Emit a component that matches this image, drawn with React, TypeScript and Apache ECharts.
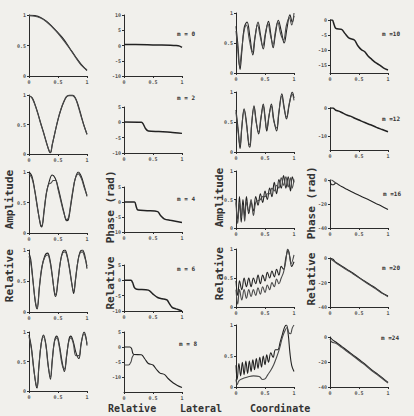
import React, { useEffect, useRef } from 'react';
import * as echarts from 'echarts';

// ---------- data ----------
const xTicks = [0, 0.5, 1];
const ampTicks = [0, 0.5, 1];
const modeLabels = ['m = 0', 'm = 2', 'm = 4', 'm = 6', 'm = 8', 'm =10', 'm =12', 'm =16', 'm =20', 'm =24'];

const amp0a = [[0,1],[0.1,0.99],[0.2,0.96],[0.3,0.9],[0.4,0.81],[0.5,0.71],[0.6,0.6],[0.7,0.46],[0.8,0.32],[0.9,0.19],[1,0.09]];
const amp0b = [[0,0.99],[0.1,0.98],[0.2,0.95],[0.3,0.89],[0.4,0.8],[0.5,0.7],[0.6,0.58],[0.7,0.45],[0.8,0.31],[0.9,0.18],[1,0.1]];
const phase0 = [[0,0.3],[0.2,0.3],[0.5,0.2],[0.8,0.1],[0.9,0],[0.96,-0.2],[1,-0.6]];

const amp2a = [[0,0.98],[0.05,0.96],[0.1,0.85],[0.15,0.7],[0.2,0.53],[0.25,0.37],[0.3,0.2],[0.35,0.04],[0.37,0.02],[0.4,0.15],[0.45,0.37],[0.5,0.58],[0.55,0.75],[0.6,0.88],[0.65,0.97],[0.7,1],[0.75,1],[0.8,0.95],[0.85,0.82],[0.9,0.65],[0.95,0.48],[1,0.33]];
const amp2b = [[0,0.99],[0.05,0.95],[0.1,0.84],[0.15,0.69],[0.2,0.52],[0.25,0.36],[0.3,0.19],[0.35,0.05],[0.37,0.03],[0.4,0.16],[0.45,0.38],[0.5,0.59],[0.55,0.76],[0.6,0.89],[0.65,0.98],[0.7,0.99],[0.75,0.99],[0.8,0.94],[0.85,0.8],[0.9,0.63],[0.95,0.47],[1,0.34]];
const phase2 = [[0,0.1],[0.3,0],[0.33,-0.5],[0.37,-2],[0.42,-2.8],[0.6,-3],[0.8,-3.2],[1,-3.6]];

const amp4a = [[0,1],[0.05,0.93],[0.1,0.7],[0.15,0.4],[0.2,0.12],[0.22,0.1],[0.26,0.35],[0.3,0.65],[0.35,0.85],[0.4,0.95],[0.45,0.9],[0.5,0.75],[0.55,0.55],[0.6,0.35],[0.65,0.2],[0.68,0.22],[0.72,0.45],[0.76,0.7],[0.8,0.9],[0.85,1],[0.9,0.93],[0.95,0.78],[1,0.6]];
const amp4b = [[0,0.97],[0.05,0.9],[0.1,0.68],[0.15,0.38],[0.2,0.14],[0.22,0.12],[0.26,0.38],[0.3,0.66],[0.34,0.8],[0.38,0.82],[0.42,0.86],[0.46,0.86],[0.5,0.72],[0.55,0.52],[0.6,0.33],[0.65,0.22],[0.68,0.25],[0.72,0.48],[0.76,0.72],[0.8,0.9],[0.85,0.97],[0.9,0.9],[0.95,0.75],[1,0.62]];
const phase4 = [[0,0],[0.18,0],[0.21,-1.5],[0.24,-2.7],[0.4,-2.9],[0.58,-3.2],[0.63,-4.5],[0.7,-5.7],[0.8,-6.1],[1,-6.8]];

const amp6a = [[0,0.95],[0.03,0.85],[0.07,0.5],[0.11,0.15],[0.14,0.05],[0.18,0.4],[0.22,0.7],[0.27,0.9],[0.32,0.95],[0.36,0.85],[0.4,0.6],[0.44,0.3],[0.46,0.25],[0.5,0.5],[0.54,0.8],[0.58,0.97],[0.62,1],[0.66,0.9],[0.7,0.7],[0.74,0.45],[0.77,0.3],[0.8,0.5],[0.84,0.8],[0.88,0.97],[0.92,1],[0.96,0.92],[1,0.7]];
const amp6b = [[0,0.9],[0.03,0.8],[0.07,0.48],[0.11,0.17],[0.14,0.08],[0.18,0.42],[0.22,0.72],[0.27,0.88],[0.32,0.92],[0.36,0.82],[0.4,0.58],[0.44,0.32],[0.46,0.28],[0.5,0.52],[0.54,0.8],[0.58,0.95],[0.62,0.97],[0.66,0.88],[0.7,0.68],[0.74,0.44],[0.77,0.33],[0.8,0.52],[0.84,0.8],[0.88,0.95],[0.92,0.97],[0.96,0.88],[1,0.74]];
const phase6 = [[0,0],[0.12,0],[0.15,-0.8],[0.18,-2.4],[0.22,-2.9],[0.42,-3.2],[0.5,-4.5],[0.58,-5.6],[0.66,-6],[0.74,-6.4],[0.78,-7.5],[0.83,-8.8],[0.9,-9.3],[1,-10]];

const amp8a = [[0,0.95],[0.04,0.75],[0.08,0.4],[0.12,0.1],[0.14,0.05],[0.17,0.4],[0.21,0.8],[0.25,0.95],[0.29,0.8],[0.33,0.45],[0.37,0.2],[0.4,0.5],[0.44,0.85],[0.48,0.93],[0.52,0.8],[0.57,0.5],[0.61,0.33],[0.65,0.6],[0.69,0.88],[0.72,0.93],[0.76,0.85],[0.81,0.65],[0.86,0.55],[0.9,0.8],[0.95,1],[0.98,0.92],[1,0.77]];
const amp8b = [[0,0.92],[0.04,0.72],[0.08,0.38],[0.12,0.12],[0.14,0.08],[0.17,0.42],[0.21,0.8],[0.25,0.92],[0.29,0.78],[0.33,0.42],[0.37,0.24],[0.4,0.52],[0.44,0.84],[0.48,0.9],[0.52,0.76],[0.57,0.45],[0.61,0.37],[0.65,0.62],[0.69,0.86],[0.72,0.9],[0.76,0.82],[0.81,0.6],[0.86,0.6],[0.9,0.82],[0.95,0.97],[0.98,0.9],[1,0.8]];
const phase8a = [[0,0],[0.1,0],[0.13,-0.5],[0.15,-2],[0.17,-2.5],[0.3,-2.6],[0.36,-4],[0.42,-5.5],[0.5,-6],[0.56,-7.5],[0.62,-8.7],[0.7,-9.2],[0.76,-10.5],[0.85,-12],[0.92,-12.8],[1,-13.5]];
const phase8b = [[0,-6],[0.08,-6],[0.12,-5],[0.14,-3.5],[0.17,-2.5]];

const amp10a = [[0,0.78],[0.03,0.5],[0.07,0.06],[0.1,0.35],[0.14,0.75],[0.19,0.85],[0.24,0.6],[0.29,0.3],[0.33,0.6],[0.38,0.85],[0.42,0.65],[0.47,0.4],[0.51,0.65],[0.56,0.86],[0.6,0.65],[0.64,0.42],[0.68,0.65],[0.73,0.88],[0.78,0.7],[0.83,0.5],[0.88,0.75],[0.93,0.97],[0.97,0.85],[1,0.95]];
const amp10b = [[0,0.7],[0.03,0.4],[0.06,0.12],[0.1,0.4],[0.14,0.7],[0.18,0.8],[0.23,0.55],[0.28,0.35],[0.33,0.62],[0.37,0.8],[0.42,0.6],[0.46,0.45],[0.51,0.68],[0.55,0.82],[0.6,0.6],[0.64,0.48],[0.68,0.7],[0.72,0.85],[0.77,0.65],[0.82,0.55],[0.87,0.8],[0.92,0.92],[0.96,0.8],[1,1]];
const phase10 = [[0,0],[0.04,0],[0.07,-1.5],[0.1,-2.8],[0.2,-3.1],[0.26,-4.5],[0.33,-6],[0.42,-6.6],[0.48,-8.5],[0.54,-9.8],[0.6,-10.5],[0.66,-12],[0.72,-13],[0.78,-14],[0.85,-14.8],[0.92,-15.8],[1,-16.5]];

const amp12a = [[0,0.7],[0.04,0.35],[0.07,0.06],[0.1,0.4],[0.14,0.72],[0.18,0.5],[0.22,0.12],[0.24,0.08],[0.27,0.45],[0.31,0.77],[0.35,0.5],[0.39,0.3],[0.43,0.55],[0.47,0.8],[0.5,0.6],[0.53,0.35],[0.57,0.6],[0.61,0.8],[0.65,0.55],[0.7,0.35],[0.74,0.65],[0.79,0.97],[0.83,0.75],[0.87,0.55],[0.92,0.8],[0.97,1],[1,0.9]];
const amp12b = [[0,0.66],[0.04,0.3],[0.07,0.1],[0.1,0.42],[0.14,0.7],[0.18,0.46],[0.22,0.15],[0.24,0.12],[0.27,0.48],[0.31,0.74],[0.35,0.48],[0.39,0.33],[0.43,0.58],[0.47,0.76],[0.5,0.56],[0.53,0.38],[0.57,0.62],[0.61,0.76],[0.65,0.52],[0.7,0.4],[0.74,0.68],[0.79,0.93],[0.83,0.72],[0.87,0.58],[0.92,0.82],[0.97,0.96],[1,0.86]];
const phase12 = [[0,0],[0.05,0],[0.1,-0.8],[0.15,-1.1],[0.2,-1.6],[0.3,-2.6],[0.35,-2.9],[0.4,-3.4],[0.5,-4.3],[0.6,-5.2],[0.7,-6],[0.8,-6.9],[0.9,-7.7],[1,-8.5]];

const amp16a = [[0,0.5],[0.03,0.15],[0.06,0.55],[0.09,0.1],[0.12,0.5],[0.15,0.2],[0.18,0.55],[0.22,0.25],[0.26,0.45],[0.3,0.3],[0.34,0.55],[0.38,0.4],[0.42,0.6],[0.46,0.45],[0.5,0.65],[0.54,0.5],[0.58,0.7],[0.62,0.55],[0.66,0.8],[0.7,0.6],[0.74,0.85],[0.78,0.7],[0.82,0.92],[0.86,0.7],[0.9,0.9],[0.94,0.65],[0.97,0.9],[1,0.8]];
const amp16b = [[0,0.45],[0.03,0.08],[0.06,0.45],[0.09,0.18],[0.12,0.4],[0.15,0.12],[0.18,0.45],[0.22,0.3],[0.26,0.5],[0.3,0.22],[0.34,0.45],[0.38,0.48],[0.42,0.5],[0.46,0.55],[0.5,0.55],[0.54,0.6],[0.58,0.6],[0.62,0.7],[0.66,0.65],[0.7,0.75],[0.74,0.7],[0.78,0.88],[0.82,0.75],[0.86,0.9],[0.9,0.72],[0.94,0.88],[0.97,0.7],[1,0.85]];
const phase16a = [[0,-1],[0.03,-4],[0.06,-4],[0.1,-2.5],[0.15,-4],[0.2,-5.5],[0.3,-8],[0.4,-10.5],[0.5,-12.8],[0.6,-15],[0.7,-17.3],[0.8,-19.7],[0.9,-22],[1,-24.5]];
const phase16b = [[0,0],[0.03,0],[0.06,-1],[0.1,-2.5]];

const amp20a = [[0,0.45],[0.03,0.2],[0.06,0.45],[0.1,0.3],[0.14,0.5],[0.18,0.35],[0.22,0.5],[0.26,0.35],[0.3,0.5],[0.34,0.4],[0.38,0.55],[0.42,0.4],[0.46,0.55],[0.5,0.45],[0.54,0.6],[0.58,0.5],[0.62,0.62],[0.66,0.52],[0.7,0.65],[0.74,0.55],[0.78,0.7],[0.82,0.65],[0.86,0.85],[0.9,0.98],[0.93,0.85],[0.96,0.7],[1,0.78]];
const amp20b = [[0,0.3],[0.03,0.05],[0.06,0.3],[0.1,0.12],[0.14,0.3],[0.18,0.15],[0.22,0.3],[0.26,0.18],[0.3,0.3],[0.34,0.2],[0.38,0.33],[0.42,0.22],[0.46,0.35],[0.5,0.25],[0.54,0.38],[0.58,0.3],[0.62,0.42],[0.66,0.35],[0.7,0.48],[0.74,0.4],[0.78,0.5],[0.82,0.6],[0.86,0.8],[0.89,1],[0.92,0.9],[0.95,0.75],[1,0.9]];
const phase20a = [[0,0],[0.05,-1],[0.1,-3.5],[0.2,-6.5],[0.3,-9.5],[0.4,-12.5],[0.5,-15.8],[0.6,-19],[0.7,-22],[0.8,-25],[0.9,-28.5],[1,-31]];
const phase20b = [[0,-0.8],[0.05,-2],[0.1,-3.9],[0.2,-7],[0.3,-10],[0.4,-13],[0.5,-16.2],[0.6,-19.4],[0.7,-22.5],[0.8,-25.6],[0.9,-28.9],[1,-31.6]];

const amp24a = [[0,0.35],[0.02,0.12],[0.05,0.38],[0.08,0.18],[0.11,0.4],[0.14,0.2],[0.17,0.42],[0.2,0.22],[0.23,0.42],[0.26,0.25],[0.29,0.44],[0.32,0.28],[0.35,0.46],[0.38,0.3],[0.41,0.48],[0.44,0.32],[0.47,0.5],[0.5,0.36],[0.53,0.52],[0.56,0.4],[0.6,0.55],[0.64,0.48],[0.68,0.6],[0.72,0.6],[0.76,0.72],[0.8,0.85],[0.84,0.97],[0.87,1],[0.9,0.85],[0.93,0.55],[0.96,0.35],[1,0.25]];
const amp24b = [[0,0.12],[0.02,0.04],[0.05,0.1],[0.1,0.13],[0.2,0.16],[0.3,0.18],[0.4,0.17],[0.46,0.12],[0.5,0.13],[0.55,0.2],[0.6,0.27],[0.65,0.36],[0.7,0.48],[0.75,0.62],[0.8,0.8],[0.85,0.92],[0.88,0.96],[0.91,0.88],[0.94,0.86],[0.97,0.95],[1,1]];
const phase24a = [[0,0],[0.05,-2.5],[0.1,-4],[0.2,-7.5],[0.3,-11],[0.4,-14.5],[0.5,-18],[0.6,-21.5],[0.7,-25.5],[0.8,-29],[0.9,-32.5],[1,-36.3]];
const phase24b = [[0,-1.5],[0.03,-4],[0.1,-5],[0.2,-8.3],[0.3,-11.8],[0.4,-15.2],[0.5,-18.8],[0.6,-22.3],[0.7,-26.2],[0.8,-29.7],[0.9,-33.2],[1,-36.8]];

const phaseTicksA = [10, 5, 0, -5, -10];
const phaseTicksB = [5, 0, -5, -10];
const phaseTicksC = [0, -5, -10, -15];
const phaseTicksD = [0, -10];
const phaseTicksE = [0, -20, -40];

// ---------- layout ----------
type Panel = {
  box: [number, number, number, number]; // left, top, width, height
  yRange: [number, number];
  yTicks: number[];
  lines: number[][][];
  smooth: number;
};

const amp = (box: [number, number, number, number], lines: number[][][]): Panel => ({
  box, yRange: [0, 1], yTicks: ampTicks, lines, smooth: 0.4,
});
const ph = (box: [number, number, number, number], yRange: [number, number], yTicks: number[], lines: number[][][]): Panel => ({
  box, yRange, yTicks, lines, smooth: 0.3,
});

const panels: Panel[] = [
  amp([29, 15, 58, 61], [amp0a, amp0b]),
  amp([29, 95, 58, 59], [amp2a, amp2b]),
  amp([29, 172, 58, 61], [amp4a, amp4b]),
  amp([29, 250, 58, 62], [amp6a, amp6b]),
  amp([29, 332, 58, 59], [amp8a, amp8b]),
  ph([124, 15, 58, 61], [-10, 10], phaseTicksA, [phase0]),
  ph([124, 107, 58, 46], [-10, 5], phaseTicksB, [phase2]),
  ph([124, 187, 58, 45], [-10, 5], phaseTicksB, [phase4]),
  ph([124, 265, 58, 46], [-10, 5], phaseTicksB, [phase6]),
  ph([124, 332, 58, 60], [-15, 5], phaseTicksB, [phase8a, phase8b]),
  amp([236, 13, 58, 60], [amp10a, amp10b]),
  amp([236, 92, 58, 60], [amp12a, amp12b]),
  amp([236, 171, 58, 57], [amp16a, amp16b]),
  amp([236, 249, 58, 58], [amp20a, amp20b]),
  amp([236, 325, 58, 62], [amp24a, amp24b]),
  ph([330, 20, 58, 53], [-17.5, 0], phaseTicksC, [phase10]),
  ph([330, 108, 58, 42], [-15, 0], phaseTicksD, [phase12]),
  ph([330, 180, 58, 48], [-40, 0], phaseTicksE, [phase16a, phase16b]),
  ph([330, 258, 58, 49], [-40, 0], phaseTicksE, [phase20a, phase20b]),
  ph([330, 337, 58, 50], [-40, 0], phaseTicksE, [phase24a, phase24b]),
];

const labelPos: [number, number][] = [
  [177, 30], [177, 94], [177, 195], [177, 265], [179, 340],
  [382, 30], [382, 115], [383, 190], [382, 264], [381, 334],
];

const INK = '#2b2b2b';
const FONT = '"DejaVu Sans Mono", monospace';

function fmt(v: number) {
  return String(v);
}

function buildOption() {
  const grid: any[] = [];
  const xAxis: any[] = [];
  const yAxis: any[] = [];
  const series: any[] = [];
  panels.forEach((p, i) => {
    const [left, top, width, height] = p.box;
    grid.push({ left, top, width, height, containLabel: false });
    const axisCommon = {
      type: 'value',
      gridIndex: i,
      splitLine: { show: false },
      axisLine: { show: true, onZero: false, lineStyle: { color: INK, width: 1 } },
    };
    xAxis.push({
      ...axisCommon,
      min: 0, max: 1,
      axisTick: { show: true, length: 2, customValues: xTicks, lineStyle: { color: INK } },
      axisLabel: { customValues: xTicks, fontSize: 5, margin: 3, color: '#555', fontFamily: FONT, fontWeight: 'bold', formatter: fmt },
    });
    yAxis.push({
      ...axisCommon,
      min: p.yRange[0], max: p.yRange[1],
      axisTick: { show: true, length: 2, customValues: p.yTicks, lineStyle: { color: INK } },
      axisLabel: { customValues: p.yTicks, fontSize: 5, margin: 3, color: '#555', fontFamily: FONT, fontWeight: 'bold', formatter: fmt },
    });
    p.lines.forEach((d, k) => {
      series.push({
        type: 'line',
        xAxisIndex: i,
        yAxisIndex: i,
        data: d,
        showSymbol: false,
        smooth: p.smooth,
        clip: true,
        lineStyle: { color: k === 0 ? '#222' : '#4a4a4a', width: p.lines.length > 1 ? 1.1 : 1.5 },
      });
    });
  });

  const graphic: any[] = [];
  modeLabels.forEach((t, i) => {
    graphic.push({
      type: 'text', left: labelPos[i][0], top: labelPos[i][1],
      style: { text: t, fontSize: 6, fontWeight: 'bold', fontFamily: FONT, fill: '#333' },
    });
  });
  const vt = (text: string, x: number, y: number) => ({
    type: 'text', x, y, rotation: Math.PI / 2,
    style: { text, fontSize: 11, fontWeight: 'bold', fontFamily: FONT, fill: '#333', align: 'center', verticalAlign: 'middle' },
  });
  graphic.push(vt('Relative   Amplitude', 9, 236));
  graphic.push(vt('Relative  Phase (rad)', 110, 240));
  graphic.push(vt('Relative   Amplitude', 219, 234));
  graphic.push(vt('Relative  Phase (rad)', 311, 236));
  const bt = (text: string, x: number) => ({
    type: 'text', x, y: 408,
    style: { text, fontSize: 10, fontWeight: 'bold', fontFamily: FONT, fill: '#333', verticalAlign: 'middle' },
  });
  graphic.push(bt('Relative', 108));
  graphic.push(bt('Lateral', 180));
  graphic.push(bt('Coordinate', 250));

  return {
    animation: false,
    backgroundColor: '#f1f0ec',
    grid, xAxis, yAxis, series, graphic,
  };
}

export default function App() {
  const ref = useRef<HTMLDivElement>(null);
  useEffect(() => {
    if (!ref.current) return;
    const chart = echarts.init(ref.current, undefined, { renderer: 'svg' });
    chart.setOption(buildOption() as any);
    return () => chart.dispose();
  }, []);
  return (
    <div
      ref={ref}
      style={{ position: 'fixed', left: 0, top: 0, width: 414, height: 416 }}
    />
  );
}
